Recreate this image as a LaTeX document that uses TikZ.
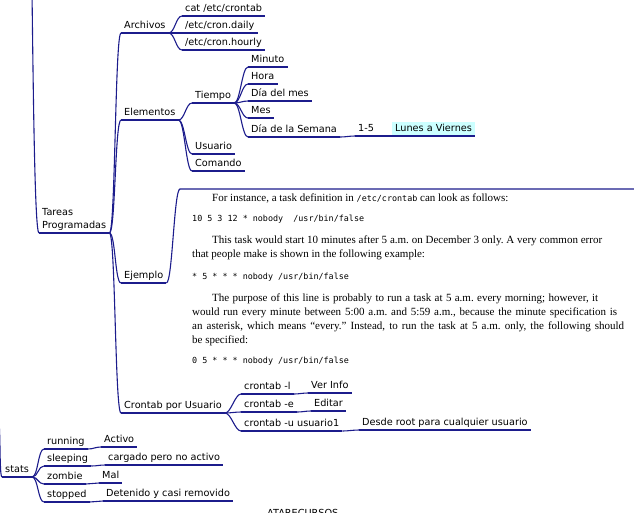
\documentclass[tikz,border=0pt]{standalone}
\usepackage{fontspec}
\setmainfont{Liberation Serif}
\setsansfont{DejaVu Sans}
\newfontfamily\codefont{DejaVu Sans Mono}
\definecolor{mmblue}{RGB}{28,28,140}
\definecolor{mmcyan}{RGB}{204,255,255}
\tikzset{
  topic/.style={anchor=south west, inner xsep=3pt, inner ysep=2pt, text depth=2pt,
    font=\sffamily\fontsize{9.7}{13}\selectfont},
  link/.style={mmblue, line width=1.1pt},
  book/.style={anchor=base west, inner sep=0pt, font=\frenchspacing\fontsize{11}{14}\selectfont},
  code/.style={anchor=base west, inner sep=0pt, font=\codefont\fontsize{8.4}{10}\selectfont}
}
\begin{document}
\begin{tikzpicture}[x=1pt, y=-1pt]
  \useasboundingbox (0,0) rectangle (634,512);
  \clip (0,0) rectangle (634,512);

  % Tareas Programadas
  \node[topic, align=left] (tareas) at (39,233) {Tareas\\Programadas};
  \node[topic] (archivos) at (121,33) {Archivos};
  \node[topic] (catcron) at (182,16) {cat /etc/crontab};
  \node[topic] (daily) at (182,33) {/etc/cron.daily};
  \node[topic] (hourly) at (182,50) {/etc/cron.hourly};

  \node[topic] (elementos) at (121,120) {Elementos};
  \node[topic] (tiempo) at (192,103) {Tiempo};
  \node[topic] (minuto) at (248,67) {Minuto};
  \node[topic] (hora) at (248,84) {Hora};
  \node[topic] (diames) at (248,101) {Día del mes};
  \node[topic] (mes) at (248,118) {Mes};
  \node[topic] (diasem) at (248,137) {Día de la Semana};
  \node[topic] (rango) at (355,136) {1-5};
  \node[topic, fill=mmcyan] (lunes) at (392,136) {Lunes a Viernes};
  \node[topic] (usuario) at (192,154) {Usuario};
  \node[topic] (comando) at (192,171) {Comando};

  \node[topic] (ejemplo) at (121,283) {Ejemplo};
  \coordinate (boxtop) at (180,189);
  \coordinate (boxend) at (634,189);

  \node[topic] (usuarios) at (121,413) {Crontab por Usuario};
  \node[topic] (cl) at (241,394) {crontab -l};
  \node[topic] (verinfo) at (308,393) {Ver Info};
  \node[topic] (ce) at (241,412) {crontab -e};
  \node[topic] (editar) at (311,411) {Editar};
  \node[topic] (cu) at (241,431) {crontab -u usuario1};
  \node[topic] (desde) at (359,430) {Desde root para cualquier usuario};

  % stats
  \node[topic] (stats) at (2,477) {stats};
  \node[topic] (running) at (44,449) {running};
  \node[topic] (activo) at (101,447) {Activo};
  \node[topic] (sleeping) at (44,466) {sleeping};
  \node[topic] (cargado) at (105,465) {cargado pero no activo};
  \node[topic] (zombie) at (44,484) {zombie};
  \node[topic] (mal) at (99,483) {Mal};
  \node[topic] (stopped) at (44,502) {stopped};
  \node[topic] (detenido) at (103,501) {Detenido y casi removido};

  \node[topic, anchor=base west] (atarecursos) at (264,516) {ATARECURSOS};

  % parents outside the picture
  \coordinate (root) at (25,-250);
  \coordinate (rootw) at (-2,420);
  \draw[link] (root) .. controls +(8,0) and +(-8,0) .. (tareas.south west);
  \draw[link] (rootw) .. controls +(3,0) and +(-3,0) .. (stats.south west);

  % connectors
  \foreach \a/\b in {tareas/archivos, tareas/elementos, tareas/ejemplo, tareas/usuarios,
      archivos/catcron, archivos/daily, archivos/hourly,
      elementos/tiempo, elementos/usuario, elementos/comando,
      tiempo/minuto, tiempo/hora, tiempo/diames, tiempo/mes, tiempo/diasem,
      diasem/rango, rango/lunes,
      usuarios/cl, usuarios/ce, usuarios/cu, cl/verinfo, ce/editar, cu/desde,
      stats/running, stats/sleeping, stats/zombie, stats/stopped,
      running/activo, sleeping/cargado, zombie/mal, stopped/detenido}
    \draw[link] (\a.south east) .. controls +(6,0) and +(-6,0) .. (\b.south west);
  \draw[link] (ejemplo.south east) .. controls +(6,0) and +(-6,0) .. (boxtop) -- (boxend);

  % underlines
  \foreach \n in {tareas, archivos, catcron, daily, hourly, elementos, tiempo, minuto,
      hora, diames, mes, diasem, rango, lunes, usuario, comando, ejemplo, usuarios,
      cl, verinfo, ce, editar, cu, desde, stats, running, activo, sleeping, cargado,
      zombie, mal, stopped, detenido}
    \draw[link] (\n.south west) -- (\n.south east);

  % Ejemplo: text of the example
  \node[book] (p1) at (212,201.5) {For instance, a task definition in {\codefont\fontsize{8.4}{10}\selectfont /etc/crontab} can look as follows:};
  \node[code] (c1) at (192,221.5) {10 5 3 12 * nobody\ \ /usr/bin/false};
  \node[book] (p2a) at (212,243.5) {\makebox[390pt][s]{This task would start 10 minutes after 5 a.m. on December 3 only. A very common error}};
  \node[book] (p2b) at (192,257.5) {that people make is shown in the following example:};
  \node[code] (c2) at (192,279.5) {* 5 * * * nobody /usr/bin/false};
  \node[book] (p3a) at (212,301.5) {\makebox[386pt][s]{The purpose of this line is probably to run a task at 5 a.m. every morning; however, it}};
  \node[book] (p3b) at (192,315.5) {\makebox[425pt][s]{would run every minute between 5:00 a.m. and 5:59 a.m., because the minute specification is}};
  \node[book] (p3c) at (192,329.5) {\makebox[432pt][s]{an asterisk, which means “every.” Instead, to run the task at 5 a.m. only, the following should}};
  \node[book] (p3d) at (192,343.5) {be specified:};
  \node[code] (c3) at (192,363.5) {0 5 * * * nobody /usr/bin/false};
\end{tikzpicture}
\end{document}
